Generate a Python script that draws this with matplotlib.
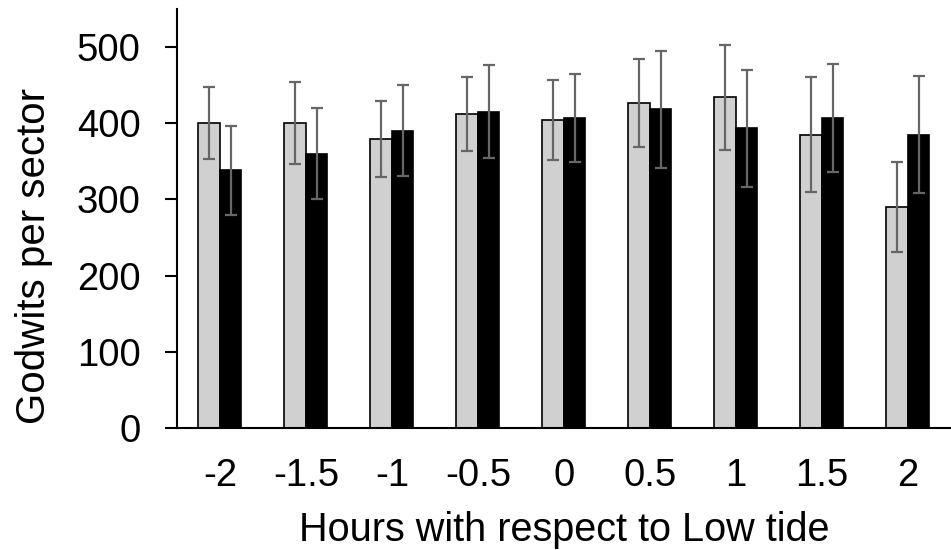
import numpy as np
import matplotlib
matplotlib.use("Agg")
import matplotlib.pyplot as plt

plt.rcParams["font.family"] = ["Liberation Sans", "DejaVu Sans"]

hours = ["-2", "-1.5", "-1", "-0.5", "0", "0.5", "1", "1.5", "2"]

# grey bars
grey_vals = [400, 400, 379, 412, 404, 426, 434, 385, 290]
grey_err = [47, 54, 50, 49, 52, 58, 69, 75, 59]

# black bars
black_vals = [338, 360, 390, 415, 407, 418, 393, 407, 385]
black_err = [58, 60, 60, 61, 58, 77, 77, 71, 77]

fig = plt.figure(figsize=(9.51, 5.5), dpi=100)
ax = fig.add_axes([0.186, 0.222, 0.814, 0.762])

x = np.arange(len(hours))
w = 0.25

ax.bar(x - w / 2, grey_vals, w, color="#d0d0d0", edgecolor="black", linewidth=1.2,
       yerr=grey_err, error_kw=dict(ecolor="#666666", elinewidth=1.6, capsize=4.5, capthick=1.6))
ax.bar(x + w / 2, black_vals, w, color="black", edgecolor="black", linewidth=1.2,
       yerr=black_err, error_kw=dict(ecolor="#666666", elinewidth=1.6, capsize=4.5, capthick=1.6))

ax.set_xlim(-0.5, len(hours) - 0.5)
ax.set_ylim(0, 550)
ax.set_yticks([0, 100, 200, 300, 400, 500])
ax.set_xticks(x)
ax.set_xticklabels(hours)

for s in ["top", "right"]:
    ax.spines[s].set_visible(False)
for s in ["left", "bottom"]:
    ax.spines[s].set_linewidth(1.5)

ax.tick_params(axis="y", length=9, width=1.5, direction="out", pad=17, labelsize=27.5)
ax.tick_params(axis="x", length=0, pad=22, labelsize=27.5)

ax.set_xlabel("Hours with respect to Low tide", fontsize=28.5, labelpad=12)
ax.set_ylabel("Godwits per sector", fontsize=29)
ax.yaxis.set_label_coords(-0.160, 0.41)

fig.savefig("out.png", dpi=100)
